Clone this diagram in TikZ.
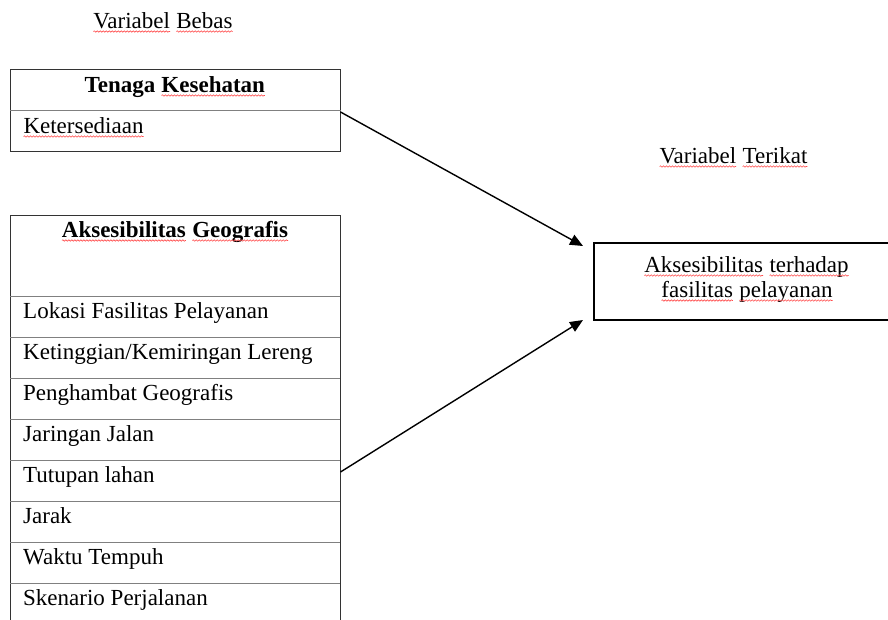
\documentclass[tikz,border=0pt]{standalone}
\usepackage{fontspec}
\setmainfont{Liberation Serif}
\usetikzlibrary{arrows.meta,decorations.pathmorphing}
\newcommand{\wavy}[1]{\tikz[baseline=(w.base)]{\node[inner sep=0pt,outer sep=0pt,font=\rmfamily](w){#1};\draw[red!70!white,line width=0.6pt,decorate,decoration={snake,amplitude=0.7pt,segment length=3pt}] ([yshift=-3.5pt]w.base west) -- ([yshift=-3.5pt]w.base east);}}
\tikzset{
  txt/.style={font=\rmfamily\fontsize{23}{25}\selectfont, inner sep=0pt, anchor=base},
  item/.style={font=\rmfamily\fontsize{23}{25}\selectfont, inner sep=0pt, anchor=base west},
  tbl/.style={draw=black!80, line width=0.9pt, anchor=north west, inner sep=0pt},
  divider/.style={draw=black!50, line width=0.9pt},
  conn/.style={line width=1.4pt, -{Triangle[length=13pt,width=11pt]}}
}
\begin{document}
\begin{tikzpicture}[x=1pt,y=-1pt]
\useasboundingbox (0,0) rectangle (888,619);
% titles
\node[txt] (tb) at (163,28) {\wavy{Variabel} \wavy{Bebas}};
\node[txt] (tt) at (733.5,163) {\wavy{Variabel} \wavy{Terikat}};
% Tenaga Kesehatan table
\node[tbl, minimum width=330pt, minimum height=82pt] (tk) at (10,69) {};
\draw[divider] (tk.west) -- (tk.east);
\node[txt] (tkh) at (175,92) {\textbf{Tenaga \wavy{Kesehatan}}};
\node[item] (k1) at (23,133) {\wavy{Ketersediaan}};
% Aksesibilitas Geografis table
\node[tbl, minimum width=330pt, minimum height=420pt] (ag) at (10,215) {};
\node[txt] (agh) at (175,237) {\textbf{\wavy{Aksesibilitas} \wavy{Geografis}}};
\foreach \yy in {296,337,378,419,460,501,542,583}
  \draw[divider] (10,\yy) -- (340,\yy);
\node[item] (i1) at (23,318.5) {Lokasi Fasilitas Pelayanan};
\node[item] (i2) at (23,359.5) {Ketinggian/Kemiringan Lereng};
\node[item] (i3) at (23,400.5) {Penghambat Geografis};
\node[item] (i4) at (23,441.5) {Jaringan Jalan};
\node[item] (i5) at (23,482.5) {Tutupan lahan};
\node[item] (i6) at (23,523.5) {Jarak};
\node[item] (i7) at (23,564.5) {Waktu Tempuh};
\node[item] (i8) at (23,605.5) {Skenario Perjalanan};
% dependent box
\node[draw=black, line width=1.5pt, anchor=north west, minimum width=340pt, minimum height=77pt, inner sep=0pt] (dep) at (593,242) {};
\node[txt] (d1) at (746.5,272) {\wavy{Aksesibilitas} \wavy{terhadap}};
\node[txt] (d2) at (747,297) {\wavy{fasilitas} \wavy{pelayanan}};
% connectors
\coordinate (s1) at (340.5,112);
\coordinate (e1) at (583,246);
\coordinate (s2) at (340.5,472);
\coordinate (e2) at (583,320);
\draw[conn] (s1) -- (e1);
\draw[conn] (s2) -- (e2);
\end{tikzpicture}
\end{document}
